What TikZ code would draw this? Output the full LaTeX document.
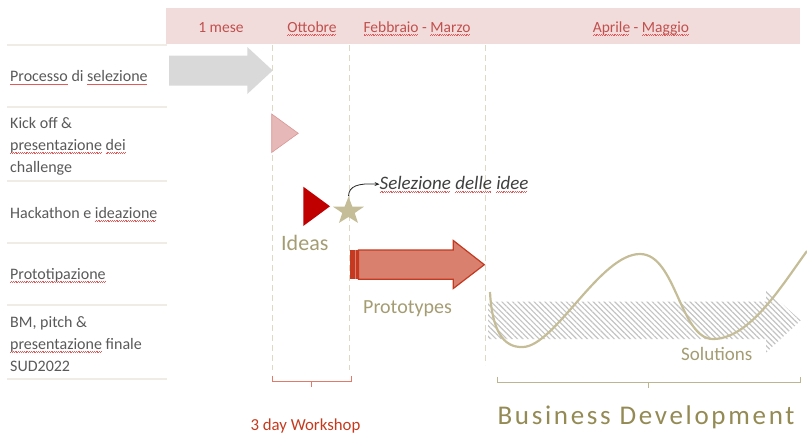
\documentclass[tikz,border=0pt]{standalone}
\usepackage{fontspec}
\setmainfont{Carlito}
\usetikzlibrary{shapes.geometric,arrows.meta,patterns.meta}
\definecolor{sqred}{HTML}{E25A5A}
\definecolor{band}{HTML}{F2DCDB}
\definecolor{bandtext}{HTML}{C0504D}
\definecolor{sepline}{HTML}{EEECE4}
\definecolor{dashc}{HTML}{DDD9C3}
\definecolor{labeltext}{HTML}{595959}
\definecolor{grayarr}{HTML}{D9D9D9}
\definecolor{pinkfill}{HTML}{E6B9B8}
\definecolor{pinkdraw}{HTML}{D99694}
\definecolor{darkred}{HTML}{C00000}
\definecolor{khaki}{HTML}{C4BD97}
\definecolor{khakitext}{HTML}{A49C72}
\definecolor{olive}{HTML}{948A54}
\definecolor{salmon}{HTML}{D9806F}
\definecolor{salmondraw}{HTML}{C4391F}
\definecolor{hatch}{HTML}{C3C3C3}
\definecolor{brred}{HTML}{E07A6B}
\definecolor{brkhaki}{HTML}{BDB592}
\definecolor{wsred}{HTML}{C53A1E}
\newsavebox\sqbox
\newcommand\sq[1]{\sbox\sqbox{#1}\rlap{\color{sqred}\hbox to \wd\sqbox{\leaders\hbox{\rule[-3.2pt]{0.9pt}{0.55pt}\rule[-2.5pt]{0.9pt}{0.55pt}}\hfill}}\usebox\sqbox}
\begin{document}
\begin{tikzpicture}[x=1pt,y=-1pt,
  lbl/.style={inner sep=0pt,font=\fontsize{16}{22}\selectfont,text=labeltext,align=left},
  hdr/.style={inner sep=0pt,font=\fontsize{15.5}{18}\selectfont,text=bandtext},
  sepl/.style={draw=sepline,line width=1.2pt},
  dashl/.style={draw=dashc,line width=0.9pt,dash pattern=on 6pt off 4pt},
  hand/.style={inner sep=0pt,text=khakitext},
  ]
\useasboundingbox (0,0) rectangle (807,434);
% header band
\fill[band] (166,8) rectangle (800,44);
\node[hdr,anchor=base] (h1) at (221,32.5) {1 mese};
\node[hdr,anchor=base] (h2) at (312,32.5) {\sq{Ottobre}};
\node[hdr,anchor=base] (h3) at (417,32.5) {\sq{Febbraio} - \sq{Marzo}};
\node[hdr,anchor=base] (h4) at (641,32.5) {\sq{Aprile} - \sq{Maggio}};
% separator lines
\foreach \yy in {45,107,181,243,305,379}
  \draw[sepl] (7,\yy) -- (167,\yy);
% dashed guides
\draw[dashl] (272.7,45) -- (272.7,370);
\draw[dashl] (349,45) -- (349,370);
\draw[dashl] (485.5,45) -- (485.5,365);
% labels
\node[lbl,anchor=base west] (l1) at (10,81.7) {\sq{Processo} di \sq{selezione}};
\node[lbl,anchor=west] (l2) at (10,146.3) {Kick off \&\\\sq{presentazione} \sq{dei}\\challenge};
\node[lbl,anchor=base west] (l3) at (10,218.3) {Hackathon e \sq{ideazione}};
\node[lbl,anchor=base west] (l4) at (10,279.3) {\sq{Prototipazione}};
\node[lbl,anchor=west] (l5) at (10,343.6) {BM, pitch \&\\\sq{presentazione} finale\\SUD2022};
% gray arrow
\fill[grayarr] (169,55.5) -- (247.3,55.5) -- (247.3,47) -- (272.7,70.5) -- (247.3,94) -- (247.3,85.5) -- (169,85.5) -- cycle;
% pink triangle
\filldraw[fill=pinkfill,draw=pinkdraw,line width=0.6pt] (271.7,114) -- (298.3,133.3) -- (271.7,152.5) -- cycle;
% red triangle
\fill[darkred] (303.3,186.7) -- (330,206.3) -- (303.3,226) -- cycle;
% star
\node[star,star points=5,star point ratio=2.5,fill=khaki,inner sep=0pt,minimum size=29pt,xscale=1.12,transform shape] (st) at (348.5,211.2) {};
\node[inner sep=0pt,anchor=base west,font=\fontsize{19}{21}\selectfont\itshape,text=black!75] (sel) at (379.5,189.3) {\sq{Selezione} \sq{delle} \sq{idee}};
\draw[black!85,line width=0.8pt,-{Stealth[length=5pt,width=4pt]}] (st.north) .. controls (349,186) and (358,183) .. (sel.west);
\node[hand,anchor=base west,font=\fontsize{22}{24}\selectfont] (ideas) at (281,250) {Ideas};
% red striped arrow
\fill[salmondraw] (350,250) rectangle (358,279.3);
\draw[salmon,line width=0.8pt] (355.3,250) -- (355.3,279.3);
\filldraw[fill=salmon,draw=salmondraw,line width=1.2pt] (358.5,250) -- (453.3,250) -- (453.3,240.5) -- (484.3,264.7) -- (453.3,288.5) -- (453.3,279.3) -- (358.5,279.3) -- cycle;
\node[hand,anchor=base west,font=\fontsize{20}{22}\selectfont] (proto) at (363,313) {Prototypes};
% hatched arrow
\fill[pattern={Lines[angle=-45,distance=3.8pt,line width=1.2pt]},pattern color=hatch] (488,301.7) -- (766,301.7) -- (766,289.3) -- (800.7,320.5) -- (766,352.7) -- (766,339) -- (488,339) -- cycle;
% wave
\draw[khaki,line width=2.2pt] (490,292) .. controls (492,330) and (503,348) .. (523,347)
  .. controls (555,346) and (600,254) .. (640,254)
  .. controls (676,254) and (680,339) .. (713,339)
  .. controls (750,339) and (782,285) .. (807,251);
\node[hand,anchor=base west,font=\fontsize{19}{21}\selectfont] (sol) at (681,360) {Solutions};
% brackets
\draw[brred,line width=0.9pt] (272.7,375.5) -- (272.7,381) -- (351,381) -- (351,375.5);
\coordinate (b1m) at (311.7,381);
\draw[brred,line width=0.9pt] (b1m) -- ++(0,5.5);
\node[inner sep=0pt,anchor=base,font=\fontsize{16.8}{18}\selectfont,text=wsred] (ws) at (305.5,430) {3 day Workshop};
\draw[brkhaki,line width=0.9pt] (497.3,376.5) -- (497.3,382) -- (800,382) -- (800,376.5);
\coordinate (b2m) at (648,382);
\draw[brkhaki,line width=0.9pt] (b2m) -- ++(0,5.5);
\node[inner sep=0pt,anchor=base,font=\fontsize{27}{30}\selectfont\addfontfeatures{LetterSpace=10},text=olive] (bd) at (646,424) {Business Development};
\end{tikzpicture}
\end{document}
